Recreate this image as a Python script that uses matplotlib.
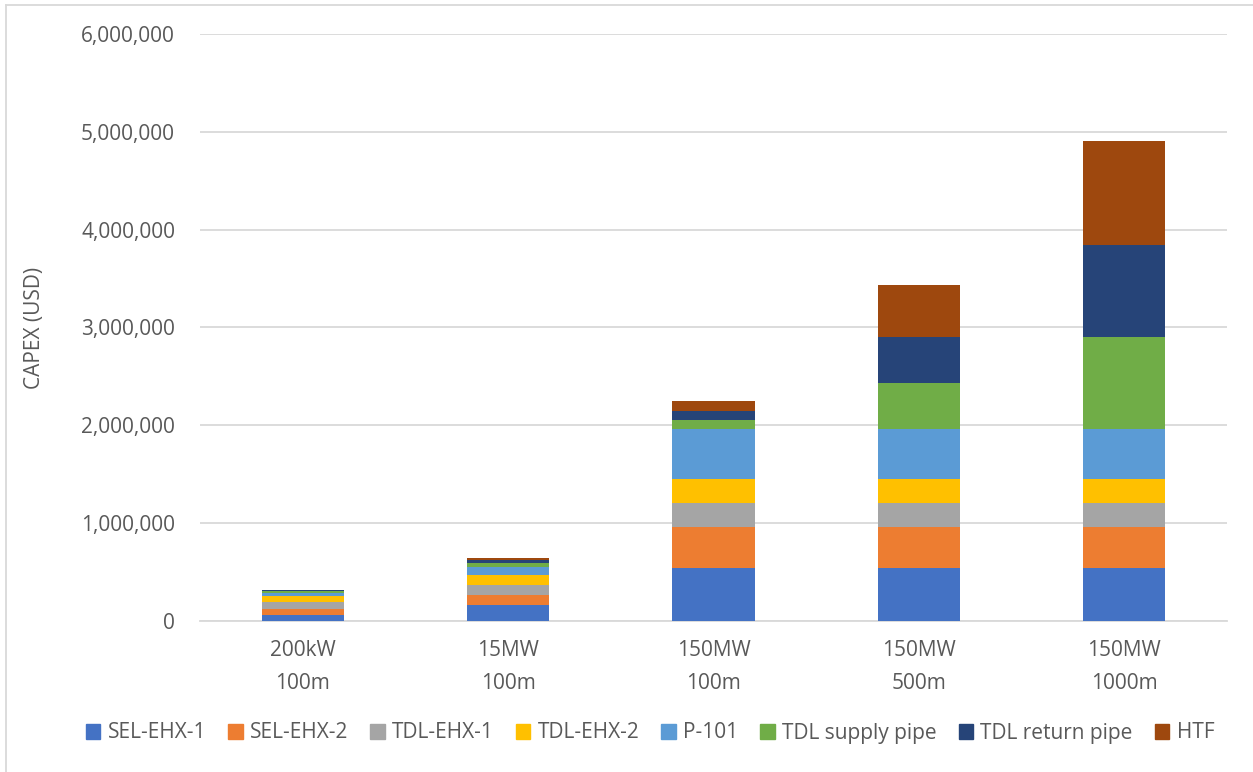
import matplotlib
matplotlib.use("Agg")
import matplotlib.pyplot as plt
from matplotlib.lines import Line2D
from matplotlib.ticker import FuncFormatter

plt.rcParams['font.family'] = ['Open Sans', 'DejaVu Sans']

categories = ["200kW\n100m", "15MW\n100m", "150MW\n100m", "150MW\n500m", "150MW\n1000m"]
components = ["SEL-EHX-1", "SEL-EHX-2", "TDL-EHX-1", "TDL-EHX-2", "P-101",
              "TDL supply pipe", "TDL return pipe", "HTF"]

sel_ehx_1 = [62000, 160000, 545000, 545000, 545000]
sel_ehx_2 = [65000, 102000, 419000, 419000, 419000]
tdl_ehx_1 = [65000, 102000, 245000, 245000, 245000]
tdl_ehx_2 = [65000, 102000, 246000, 246000, 246000]
p_101 = [30000, 82000, 505000, 505000, 505000]
tdl_supply_pipe = [17000, 41000, 92000, 472000, 944000]
tdl_return_pipe = [10000, 37000, 92000, 467000, 937000]
htf = [7000, 20000, 109000, 535000, 1068000]

series = [sel_ehx_1, sel_ehx_2, tdl_ehx_1, tdl_ehx_2, p_101,
          tdl_supply_pipe, tdl_return_pipe, htf]
colors = ["#4472C4", "#ED7D31", "#A5A5A5", "#FFC000", "#5B9BD5",
          "#70AD47", "#264478", "#9E480E"]

text_color = "#595959"
fs = 15

fig = plt.figure(figsize=(12.53, 7.72), dpi=100)
ax = fig.add_axes([200 / 1253, (772 - 621) / 772, 1027 / 1253, 587 / 772])

x = list(range(len(categories)))
bottom = [0] * len(categories)
for name, vals, col in zip(components, series, colors):
    ax.bar(x, vals, width=0.4, bottom=bottom, color=col, label=name, zorder=3)
    bottom = [b + v for b, v in zip(bottom, vals)]

ax.set_xlim(-0.5, len(categories) - 0.5)
ax.set_ylim(0, 6000000)
ax.set_yticks(range(0, 6000001, 1000000))
ax.yaxis.set_major_formatter(FuncFormatter(lambda v, p: f"{int(v):,}"))
ax.set_xticks(x)
ax.set_xticklabels(categories, linespacing=1.7)

ax.grid(axis='y', color="#D9D9D9", linewidth=1.3, zorder=0)
for s in ["top", "right", "left"]:
    ax.spines[s].set_visible(False)
ax.spines["bottom"].set_color("#D9D9D9")
ax.spines["bottom"].set_linewidth(1.3)
ax.tick_params(axis='both', length=0, labelsize=fs, colors=text_color)
ax.tick_params(axis='y', pad=18)
ax.tick_params(axis='x', pad=14)

ax.set_ylabel("CAPEX (USD)", fontsize=fs, color=text_color, labelpad=26)

handles = [plt.Rectangle((0, 0), 1, 1, color=c) for c in colors]
fig.legend(handles, components, loc="center", bbox_to_anchor=(650 / 1253, (772 - 733) / 772),
           ncol=8, frameon=False, fontsize=fs, handlelength=0.7, handleheight=0.7,
           handletextpad=0.35, columnspacing=1.05, labelcolor=text_color)

# chart frame edges
fig.add_artist(Line2D([6 / 1253, 1], [1 - 5 / 772, 1 - 5 / 772], transform=fig.transFigure,
                      color="#D9D9D9", linewidth=1.3))
fig.add_artist(Line2D([6 / 1253, 6 / 1253], [0, 1 - 5 / 772], transform=fig.transFigure,
                      color="#D9D9D9", linewidth=1.3))

fig.savefig("out.png", dpi=100, facecolor="white")
